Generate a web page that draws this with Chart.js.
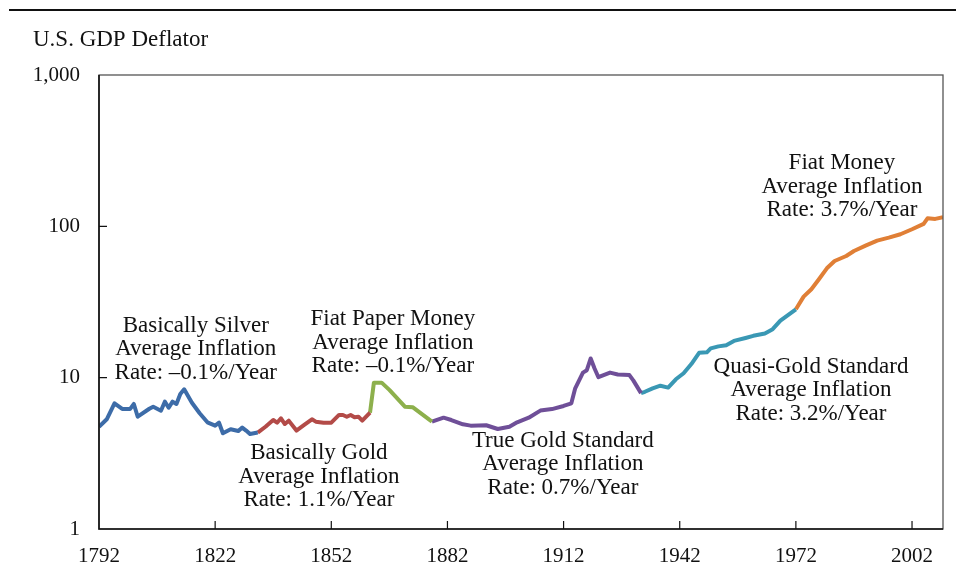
<!DOCTYPE html>
<html lang="en">
<head>
<meta charset="UTF-8">
<title>U.S. GDP Deflator</title>
<script src="https://cdn.jsdelivr.net/npm/chart.js"></script>
<style>
  body { margin: 0; background: #fff; }
  #wrap { width: 956px; height: 582px; }
</style>
</head>
<body>
<div id="wrap"><canvas id="deflatorChart" width="956" height="582"></canvas></div>
<script>
// values (log scale)
const silverYears  = [1792, 1794, 1796, 1798, 1800, 1801, 1802, 1805, 1806, 1808, 1809, 1810, 1811, 1812, 1813, 1814, 1816, 1818, 1820, 1822, 1823, 1824, 1826, 1828, 1829, 1830, 1831, 1833];
const silverValues = [4.74, 5.31, 6.77, 6.21, 6.2, 6.7, 5.52, 6.23, 6.43, 6.05, 6.94, 6.33, 6.94, 6.7, 7.8, 8.38, 6.83, 5.82, 5.07, 4.82, 5.04, 4.29, 4.56, 4.44, 4.68, 4.47, 4.24, 4.34];

const goldYears  = [1833, 1835, 1837, 1838, 1839, 1840, 1841, 1843, 1845, 1847, 1848, 1850, 1852, 1854, 1855, 1856, 1857, 1858, 1859, 1860, 1862];
const goldValues = [4.34, 4.74, 5.25, 5.04, 5.39, 4.94, 5.2, 4.47, 4.87, 5.31, 5.12, 5.04, 5.04, 5.67, 5.67, 5.52, 5.67, 5.48, 5.52, 5.2, 5.87];

const paperYears  = [1862, 1863, 1865, 1867, 1871, 1873, 1878];
const paperValues = [5.87, 9.27, 9.27, 8.3, 6.43, 6.38, 5.12];

const trueGoldYears  = [1878, 1881, 1883, 1886, 1888, 1892, 1895, 1898, 1900, 1903, 1906, 1909, 1912, 1914, 1915, 1917, 1918, 1919, 1920, 1921, 1924, 1926, 1929, 1930, 1932];
const trueGoldValues = [5.12, 5.44, 5.25, 4.92, 4.82, 4.85, 4.58, 4.74, 5.07, 5.44, 6.06, 6.2, 6.5, 6.77, 8.51, 10.8, 11.2, 13.4, 11.5, 10.07, 10.8, 10.5, 10.4, 9.6, 7.9];

const quasiYears  = [1932, 1933, 1935, 1937, 1939, 1941, 1943, 1945, 1947, 1949, 1950, 1952, 1954, 1956, 1959, 1961, 1964, 1966, 1968, 1972];
const quasiValues = [7.9, 8.07, 8.5, 8.85, 8.6, 9.76, 10.7, 12.3, 14.6, 14.7, 15.6, 16.1, 16.4, 17.5, 18.3, 18.9, 19.6, 20.9, 23.8, 28.3];

const fiatYears  = [1972, 1974, 1976, 1978, 1980, 1982, 1985, 1987, 1990, 1993, 1996, 1999, 2002, 2005, 2006, 2008, 2010];
const fiatValues = [28.3, 34.3, 38.4, 44.9, 52.8, 59, 63.7, 68.7, 74.5, 80.4, 84.2, 88.7, 95.7, 103.8, 113, 112, 115];

const xTickYears = [1792, 1822, 1852, 1882, 1912, 1942, 1972, 2002];
const yTickValues = [1, 10, 100, 1000];

// era labels, anchored at (year, value) of the first line
const eraNotes = [
  { year: 1817.0, value: 22.0, lines: ['Basically Silver', 'Average Inflation', 'Rate: \u20130.1%/Year'] },
  { year: 1848.8, value: 3.18, lines: ['Basically Gold', 'Average Inflation', 'Rate: 1.1%/Year'] },
  { year: 1867.9, value: 24.4, lines: ['Fiat Paper Money', 'Average Inflation', 'Rate: \u20130.1%/Year'] },
  { year: 1911.8, value: 3.82, lines: ['True Gold Standard', 'Average Inflation', 'Rate: 0.7%/Year'] },
  { year: 1975.9, value: 11.8, lines: ['Quasi-Gold Standard', 'Average Inflation', 'Rate: 3.2%/Year'] },
  { year: 1983.9, value: 262, lines: ['Fiat Money', 'Average Inflation', 'Rate: 3.7%/Year'] }
];

const serif = "'Liberation Serif', 'Times New Roman', serif";

function pts(years, values) {
  return years.map((y, i) => ({ x: y, y: values[i] }));
}

function era(years, values, color) {
  return {
    data: pts(years, values),
    borderColor: color,
    borderWidth: 4,
    pointRadius: 0,
    tension: 0,
    fill: false,
    borderJoinStyle: 'round',
    borderCapStyle: 'butt'
  };
}

const decorPlugin = {
  id: 'decor',
  beforeDraw(chart) {
    const ctx = chart.ctx;
    ctx.save();
    ctx.fillStyle = '#fff';
    ctx.fillRect(0, 0, chart.width, chart.height);
    // top rule
    ctx.strokeStyle = '#111';
    ctx.lineWidth = 2;
    ctx.beginPath();
    ctx.moveTo(9, 10);
    ctx.lineTo(chart.width, 10);
    ctx.stroke();
    // axis title
    ctx.fillStyle = '#111';
    ctx.font = '23px ' + serif;
    ctx.textBaseline = 'middle';
    ctx.textAlign = 'left';
    ctx.fillText('U.S. GDP Deflator', 33, 40);
    ctx.restore();
  },
  afterDraw(chart) {
    const ctx = chart.ctx;
    const a = chart.chartArea;
    const xs = chart.scales.x;
    const ys = chart.scales.y;
    ctx.save();
    // frame
    ctx.strokeStyle = '#555';
    ctx.lineWidth = 1.3;
    ctx.strokeRect(a.left, a.top, a.right - a.left, a.bottom - a.top);
    ctx.strokeStyle = '#111';
    ctx.lineWidth = 1.6;
    ctx.beginPath();
    ctx.moveTo(a.left, a.top);
    ctx.lineTo(a.left, a.bottom);
    ctx.lineTo(a.right, a.bottom);
    ctx.stroke();
    // inward ticks
    ctx.lineWidth = 1.2;
    ctx.beginPath();
    xTickYears.slice(1).forEach(yr => {
      const px = xs.getPixelForValue(yr);
      ctx.moveTo(px, a.bottom);
      ctx.lineTo(px, a.bottom - 8);
    });
    yTickValues.slice(1, -1).forEach(v => {
      const py = ys.getPixelForValue(v);
      ctx.moveTo(a.left, py);
      ctx.lineTo(a.left + 8, py);
    });
    ctx.stroke();
    // era labels
    ctx.fillStyle = '#111';
    ctx.font = '23px ' + serif;
    ctx.textAlign = 'center';
    ctx.textBaseline = 'middle';
    eraNotes.forEach(n => {
      const px = xs.getPixelForValue(n.year);
      const py = ys.getPixelForValue(n.value);
      n.lines.forEach((t, i) => ctx.fillText(t, px, py + i * 23.5));
    });
    ctx.restore();
  }
};

new Chart(document.getElementById('deflatorChart'), {
  type: 'line',
  data: {
    datasets: [
      era(silverYears, silverValues, '#3d6ca8'),
      era(goldYears, goldValues, '#b34b48'),
      era(paperYears, paperValues, '#8db04c'),
      era(trueGoldYears, trueGoldValues, '#6f4f98'),
      era(quasiYears, quasiValues, '#3a98b4'),
      era(fiatYears, fiatValues, '#e07f36')
    ]
  },
  options: {
    responsive: false,
    animation: false,
    devicePixelRatio: 1,
    layout: { padding: { top: 75, right: 13, left: 0, bottom: 0 } },
    plugins: { legend: { display: false }, tooltip: { enabled: false } },
    scales: {
      x: {
        type: 'linear',
        min: 1792,
        max: 2010,
        afterBuildTicks: s => { s.ticks = xTickYears.map(v => ({ value: v })); },
        afterFit: s => { s.height = 53; },
        grid: { display: false, drawTicks: false },
        border: { display: false },
        ticks: { color: '#111', font: { family: serif, size: 21 }, padding: 15, maxRotation: 0, autoSkip: false, callback: v => String(v) }
      },
      y: {
        type: 'logarithmic',
        min: 1,
        max: 1000,
        afterBuildTicks: s => { s.ticks = yTickValues.map(v => ({ value: v })); },
        afterFit: s => { s.width = 99; },
        grid: { display: false, drawTicks: false },
        border: { display: false },
        ticks: { color: '#111', font: { family: serif, size: 21 }, padding: 19, autoSkip: false, callback: v => v.toLocaleString('en-US') }
      }
    }
  },
  plugins: [decorPlugin]
});
</script>
</body>
</html>
